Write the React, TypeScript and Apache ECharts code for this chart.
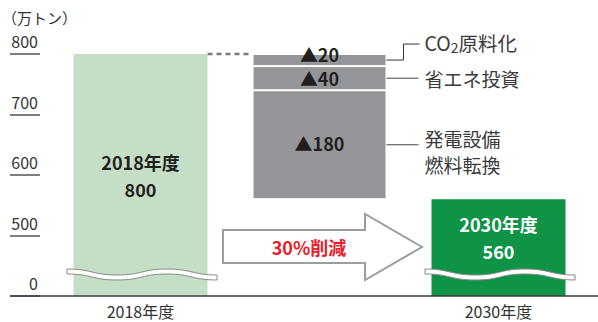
import React, { useEffect, useRef } from 'react';
import * as echarts from 'echarts';

const categories = ['2018年度', '', '2030年度'];
const totalValues: (number | null)[] = [800, null, 560];
const reductionNames = ['発電設備\n燃料転換', '省エネ投資', 'CO2原料化'];
const reductionValues = [180, 40, 20];
const yTicks = [400, 500, 600, 700, 800];
const yTickLabels = ['0', '500', '600', '700', '800'];
const reductionRate = '30%削減';
const unitLabel = '（万トン）';

const FONT = 'Noto Sans CJK JP';
const LIGHT_GREEN = '#c5dec6';
const GREEN = '#0f9447';
const GRAY = '#939598';
const DARK = '#231f20';
const TEXT = '#3a3a3a';
const BAR_W = 134;

const wavePath =
  'M0,0 C25,0 25,6 50,6 C75,6 75,0 100,0 C125,0 125,6 150,6 L150,11 C125,11 125,5 100,5 C75,5 75,11 50,11 C25,11 25,5 0,5 Z';
echarts.graphic.registerShape('wave', echarts.graphic.extendPath(wavePath, {}) as any);

export default function App() {
  const ref = useRef<HTMLDivElement>(null);
  useEffect(() => {
    document.body.style.margin = '0';
    const chart = echarts.init(ref.current!, null, { renderer: 'svg' });
    const base = (totalValues[0] as number) - reductionValues.reduce((a, b) => a + b, 0);
    const segOffsets = [[0, -2], [0, 0], [0, -6]];
    const option: any = {
      animation: false,
      textStyle: { fontFamily: FONT },
      grid: { left: 51, right: 10, top: 54, bottom: 26 },
      xAxis: {
        type: 'category',
        data: categories,
        axisLine: { show: false },
        axisTick: { show: false },
        axisLabel: { color: '#333', fontSize: 16, margin: 7, fontFamily: FONT },
      },
      yAxis: {
        type: 'value',
        min: 400,
        max: 800,
        interval: 100,
        offset: 41,
        splitLine: { show: false },
        axisLine: { show: false },
        axisTick: { show: true, inside: true, length: 30, lineStyle: { color: '#555', width: 1.5 } },
        axisLabel: {
          inside: true,
          align: 'right',
          margin: 28,
          verticalAlign: 'bottom',
          lineHeight: 16,
          padding: [0, 0, 5, 0],
          fontSize: 16,
          color: '#333',
          fontFamily: FONT,
          formatter: (v: number) => {
            const i = yTicks.indexOf(v);
            return i >= 0 ? yTickLabels[i] : '';
          },
        },
      },
      series: [
        {
          type: 'bar',
          stack: 's',
          barWidth: BAR_W,
          data: totalValues.map((v, i) =>
            v == null
              ? '-'
              : {
                  value: v,
                  itemStyle: { color: i === 0 ? LIGHT_GREEN : GREEN },
                  label: { color: i === 0 ? DARK : '#fff', offset: i === 0 ? [0, 0] : [0, -10] },
                }
          ),
          label: {
            show: true,
            position: 'inside',
            fontSize: 18,
            fontWeight: 'bold',
            lineHeight: 27,
            fontFamily: FONT,
            formatter: (p: any) => `${categories[p.dataIndex]}\n${p.value}`,
          },
        },
        {
          type: 'bar',
          stack: 's',
          barWidth: BAR_W,
          silent: true,
          data: ['-', base, '-'],
          itemStyle: { color: 'transparent' },
        },
        ...reductionValues.map((v, i) => ({
          type: 'bar',
          stack: 's',
          barWidth: BAR_W,
          name: reductionNames[i],
          data: ['-', v, '-'],
          itemStyle: { color: GRAY, borderColor: '#fff', borderWidth: 1 },
          label: {
            show: true,
            position: 'inside',
            formatter: `▲${v}`,
            fontSize: 18,
            fontWeight: 'bold',
            color: DARK,
            fontFamily: FONT,
            offset: segOffsets[i],
          },
        })),
      ],
    };
    chart.setOption(option);

    const px = (c: number, v: number) => chart.convertToPixel({ gridIndex: 0 }, [c, v]) as number[];
    const [x0, yTop] = px(0, totalValues[0] as number);
    const [x1] = px(1, totalValues[0] as number);
    const [x2] = px(2, totalValues[2] as number);
    const yBase = px(0, 400)[1];
    const xRight = x1 + BAR_W / 2;

    const graphics: any[] = [];
    graphics.push({
      type: 'text', x: 2, y: 17, z: 10,
      style: { text: unitLabel, fontSize: 15, lineHeight: 16, fill: '#333', fontFamily: FONT, verticalAlign: 'middle' },
    });
    graphics.push({
      type: 'line', z: 10,
      shape: { x1: 10, y1: yBase, x2: 598, y2: yBase },
      style: { stroke: '#3c3c3c', lineWidth: 1.5 },
    });
    graphics.push({
      type: 'line', z: 10,
      shape: { x1: x0 + BAR_W / 2, y1: yTop, x2: x1 - BAR_W / 2, y2: yTop },
      style: { stroke: '#7a7a7a', lineWidth: 2.5, lineDash: [5, 4] },
    });
    let cum = base;
    reductionValues.forEach((v, i) => {
      const yc = px(1, cum + v / 2)[1];
      cum += v;
      if (i === reductionValues.length - 1) {
        graphics.push({
          type: 'polyline', z: 10,
          shape: { points: [[xRight, yc], [xRight + 17, yc], [xRight + 17, yc - 16], [xRight + 33, yc - 16]] },
          style: { stroke: '#333', lineWidth: 1, fill: 'none' },
        });
        graphics.push({
          type: 'text', x: xRight + 38, y: yc - 18, z: 10,
          style: {
            text: '{a|CO}{b|2}{a|原料化}',
            verticalAlign: 'middle',
            fill: TEXT,
            fontFamily: FONT,
            rich: {
              a: { fontSize: 19.5, fill: TEXT, fontFamily: FONT, lineHeight: 24 },
              b: { fontSize: 14, fill: TEXT, fontFamily: FONT, lineHeight: 24, verticalAlign: 'bottom', padding: [6, 0, 0, 0] },
            },
          },
        });
      } else {
        graphics.push({
          type: 'line', z: 10,
          shape: { x1: xRight, y1: yc, x2: xRight + 32, y2: yc },
          style: { stroke: '#444', lineWidth: 1 },
        });
        graphics.push({
          type: 'text', x: xRight + 38, y: yc + (i === 0 ? 7 : 0), z: 10,
          style: {
            text: reductionNames[i], fontSize: 19, lineHeight: 26, fill: TEXT, fontFamily: FONT,
            verticalAlign: 'middle',
          },
        });
      }
    });
    graphics.push({
      type: 'polygon', z: 10,
      shape: { points: [[223, 230], [365, 230], [365, 214], [422, 247], [365, 280], [365, 263], [223, 263]] },
      style: { fill: '#fff', stroke: '#9d9d9d', lineWidth: 2 },
    });
    graphics.push({
      type: 'text', x: 309, y: 247, z: 11,
      style: {
        text: reductionRate, fontSize: 18, fontWeight: 'bold', fill: '#e8202a', fontFamily: FONT,
        align: 'center', verticalAlign: 'middle',
      },
    });
    [x0, x2].forEach((cx) => {
      graphics.push({
        type: 'wave', z: 10,
        x: cx - 75 + 1.5, y: yBase - 27,
        style: { fill: '#fff', stroke: '#888', lineWidth: 1 },
      });
    });
    chart.setOption({ graphic: graphics });
    return () => chart.dispose();
  }, []);
  return <div ref={ref} style={{ width: 598, height: 322 }} />;
}
